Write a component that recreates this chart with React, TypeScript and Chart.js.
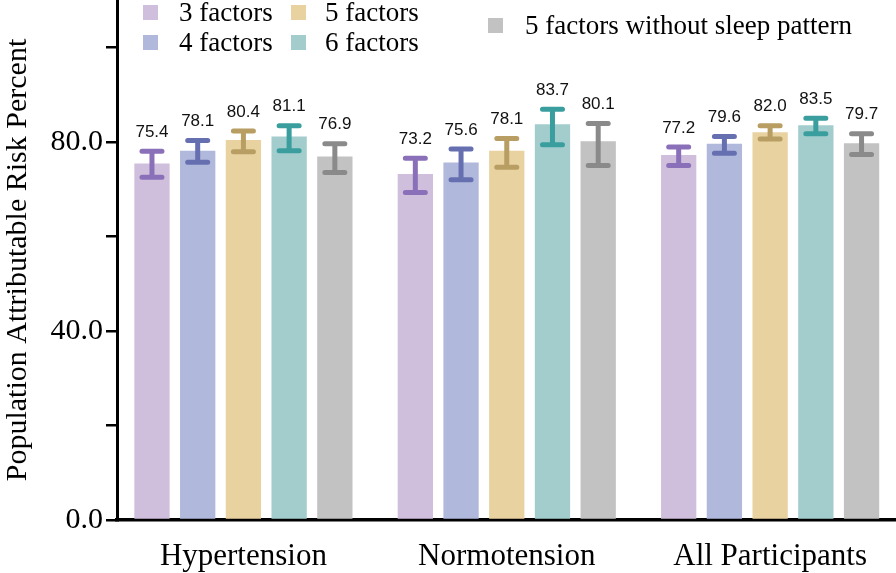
import React, { useEffect, useRef } from "react";
import { Chart, registerables } from "chart.js";

Chart.register(...registerables);

const categories = ["Hypertension", "Normotension", "All Participants"];
const seriesNames = ["3 factors", "4 factors", "5 factors", "6 factors", "5 factors without sleep pattern"];

const values3 = [75.4, 73.2, 77.2];
const values4 = [78.1, 75.6, 79.6];
const values5 = [80.4, 78.1, 82.0];
const values6 = [81.1, 83.7, 83.5];
const valuesNoSleep = [76.9, 80.1, 79.7];

const lower3 = [72.5, 69.3, 75.0];
const upper3 = [78.0, 76.5, 78.9];
const lower4 = [75.7, 72.0, 77.6];
const upper4 = [80.3, 78.5, 81.1];
const lower5 = [77.9, 74.6, 80.6];
const upper5 = [82.3, 80.7, 83.4];
const lower6 = [78.1, 79.4, 81.7];
const upper6 = [83.4, 86.9, 85.0];
const lowerNoSleep = [73.5, 75.0, 77.3];
const upperNoSleep = [79.6, 83.9, 81.7];

const yTicks = [0, 20, 40, 60, 80, 100];
const yLabelled = [0, 40, 80];

const barColors = ["#D0BFDC", "#B0B8DC", "#E8D2A0", "#A3CCCC", "#C2C2C2"];
const errColors = ["#8A70B8", "#6670B0", "#B89E62", "#3A9E9E", "#8A8A8A"];

const allValues = [values3, values4, values5, values6, valuesNoSleep];
const allLower = [lower3, lower4, lower5, lower6, lowerNoSleep];
const allUpper = [upper3, upper4, upper5, upper6, upperNoSleep];

const SERIF = "'Liberation Serif', 'Times New Roman', serif";

const errorBarPlugin = {
  id: "errorBars",
  afterDatasetsDraw(chart: any) {
    const ctx = chart.ctx;
    const yScale = chart.scales.y;
    chart.data.datasets.forEach((ds: any, i: number) => {
      const meta = chart.getDatasetMeta(i);
      meta.data.forEach((bar: any, j: number) => {
        const x = bar.x;
        const yU = yScale.getPixelForValue(allUpper[i][j]);
        const yL = yScale.getPixelForValue(allLower[i][j]);
        ctx.save();
        ctx.strokeStyle = errColors[i];
        ctx.lineWidth = 5;
        ctx.lineCap = "round";
        ctx.beginPath();
        ctx.moveTo(x, yU);
        ctx.lineTo(x, yL);
        ctx.moveTo(x - 10, yU);
        ctx.lineTo(x + 10, yU);
        ctx.moveTo(x - 10, yL);
        ctx.lineTo(x + 10, yL);
        ctx.stroke();
        ctx.fillStyle = "#111";
        ctx.font = "17px 'Liberation Sans', Arial, sans-serif";
        ctx.textAlign = "center";
        ctx.textBaseline = "middle";
        ctx.fillText(allValues[i][j].toFixed(1), x, yU - 19);
        ctx.restore();
      });
    });
  },
};

const legendItems = [
  { idx: 0, sx: 143, sy: 5, tx: 179, ty: 14 },
  { idx: 1, sx: 143, sy: 35, tx: 179, ty: 44 },
  { idx: 2, sx: 291, sy: 5, tx: 325, ty: 14 },
  { idx: 3, sx: 291, sy: 35, tx: 325, ty: 44 },
  { idx: 4, sx: 488, sy: 18, tx: 525, ty: 27 },
];

const legendPlugin = {
  id: "customLegend",
  afterDraw(chart: any) {
    const ctx = chart.ctx;
    ctx.save();
    ctx.font = "27px " + SERIF;
    ctx.textAlign = "left";
    ctx.textBaseline = "middle";
    legendItems.forEach((it) => {
      ctx.fillStyle = barColors[it.idx];
      ctx.fillRect(it.sx, it.sy, 15, 15);
      ctx.fillStyle = "#000";
      ctx.fillText(seriesNames[it.idx], it.tx, it.ty);
    });
    ctx.restore();
  },
};

export default function App() {
  const ref = useRef<HTMLCanvasElement | null>(null);
  useEffect(() => {
    if (!ref.current) return;
    const chart = new Chart(ref.current, {
      type: "bar",
      data: {
        labels: categories,
        datasets: seriesNames.map((name, i) => ({
          label: name,
          data: allValues[i],
          backgroundColor: barColors[i],
          borderWidth: 0,
          categoryPercentage: 0.868,
          barPercentage: 0.772,
        })),
      },
      options: {
        animation: false,
        responsive: false,
        maintainAspectRatio: false,
        layout: { padding: 0 },
        plugins: {
          legend: { display: false },
          tooltip: { enabled: false },
        },
        scales: {
          x: {
            grid: { display: false, drawTicks: false },
            border: { display: true, color: "#000", width: 3.5 },
            ticks: {
              color: "#000",
              padding: 18,
              font: { family: SERIF, size: 31 },
            },
            afterBuildTicks: (s: any) => {
              s._startValue = -0.48;
              s._valueRange = 2.958;
            },
            afterFit: (s: any) => {
              s.height = 53;
              s.paddingLeft = 0;
              s.paddingRight = 0;
            },
          },
          y: {
            min: 0,
            max: 110,
            afterBuildTicks: (s: any) => {
              s.ticks = yTicks.map((v) => ({ value: v }));
            },
            ticks: {
              color: "#000",
              padding: 3,
              callback: (v: any) => (yLabelled.includes(Number(v)) ? Number(v).toFixed(1) : ""),
              font: { family: SERIF, size: 30 },
            },
            grid: {
              drawOnChartArea: false,
              drawTicks: true,
              tickLength: 11,
              color: "#000",
              lineWidth: 2.5,
            },
            border: { display: true, color: "#000", width: 3 },
            title: {
              display: true,
              text: "Population Attributable Risk Percent",
              color: "#000",
              padding: 0,
              font: { family: SERIF, size: 30 },
            },
            afterFit: (s: any) => {
              s.width = 117;
              s.paddingTop = 0;
              s.paddingBottom = 0;
            },
          },
        },
      },
      plugins: [errorBarPlugin, legendPlugin],
    });
    return () => chart.destroy();
  }, []);
  return (
    <div style={{ position: "absolute", left: 0, top: 0, width: 896, height: 573, background: "#fff" }}>
      <canvas ref={ref} width={896} height={573} style={{ width: 896, height: 573 }} />
    </div>
  );
}
